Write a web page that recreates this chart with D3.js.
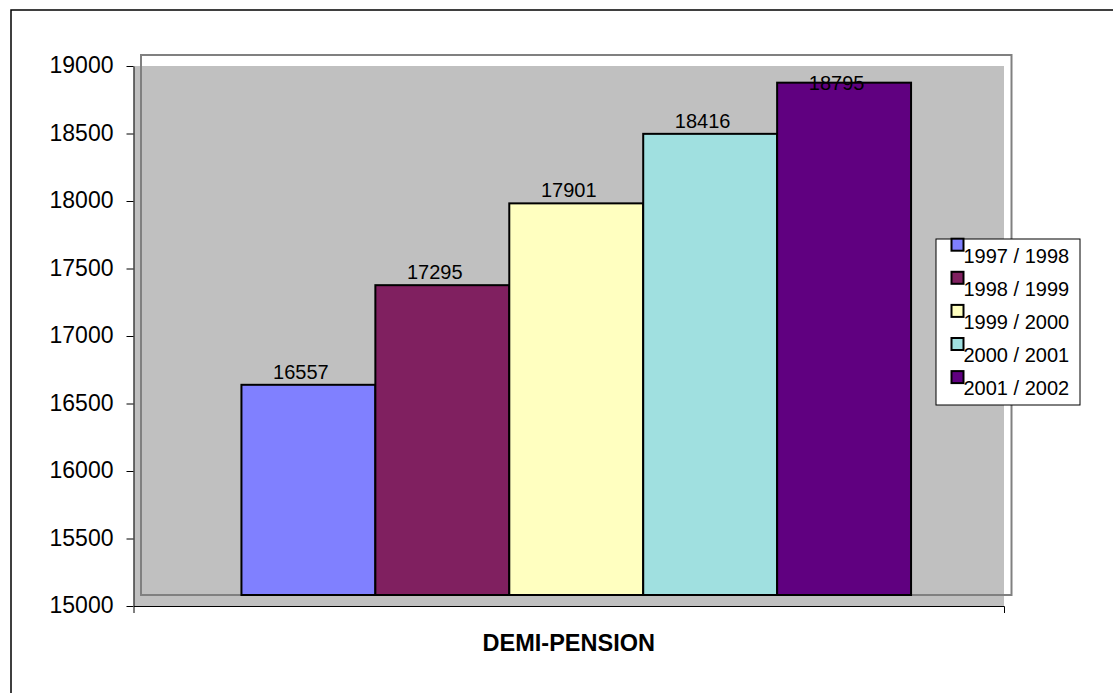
<!DOCTYPE html>
<html>
<head>
<meta charset="utf-8">
<script src="https://cdn.jsdelivr.net/npm/d3@7/dist/d3.min.js"></script>
<style>
  html, body { margin: 0; padding: 0; background: #fff; }
  svg { display: block; }
  text { font-family: "Liberation Sans", Arial, sans-serif; }
</style>
</head>
<body>
<svg id="chart" width="1113" height="693"></svg>
<script>
// ---- data ----
const categories = ["DEMI-PENSION"];
const seriesNames = ["1997 / 1998", "1998 / 1999", "1999 / 2000", "2000 / 2001", "2001 / 2002"];
const seriesValues = [16557, 17295, 17901, 18416, 18795];
const seriesColors = ["#8080FF", "#802060", "#FFFFC0", "#A0E0E0", "#600080"];
const yTicks = [15000, 15500, 16000, 16500, 17000, 17500, 18000, 18500, 19000];
const yDomain = [15000, 19000];

// ---- layout ----
const svg = d3.select("#chart");
const fill = { x0: 133.5, x1: 1004, y0: 66, y1: 606 };   // grey plot fill / axis frame
const dx = 7.5, dy = -11;                                 // offset of the bordered plot frame

// outer chart border
svg.append("rect")
  .attr("x", 11).attr("y", 10)
  .attr("width", 1200).attr("height", 800)
  .attr("fill", "none").attr("stroke", "#000").attr("stroke-width", 1.5);

// scales
const xAxisScale = d3.scaleBand().domain(categories).range([fill.x0, fill.x1]).paddingInner(0).paddingOuter(0.15);
const xBarScale = d3.scaleBand().domain(categories).range([fill.x0 + dx, fill.x1 + dx]).paddingInner(0).paddingOuter(0.15);
const xSeries = d3.scaleBand().domain(seriesNames).range([0, xBarScale.bandwidth()]).padding(0);
const yAxisScale = d3.scaleLinear().domain(yDomain).range([fill.y1, fill.y0]);
const yBarScale = d3.scaleLinear().domain(yDomain).range([fill.y1 + dy, fill.y0 + dy]);

// grey plot fill
svg.append("rect")
  .attr("x", fill.x0).attr("y", fill.y0)
  .attr("width", fill.x1 - fill.x0).attr("height", fill.y1 - fill.y0)
  .attr("fill", "#C0C0C0");

// plot frame border (offset)
svg.append("rect")
  .attr("x", fill.x0 + dx).attr("y", fill.y0 + dy)
  .attr("width", fill.x1 - fill.x0).attr("height", fill.y1 - fill.y0)
  .attr("fill", "none").attr("stroke", "#808080").attr("stroke-width", 2);

// bars
const bars = seriesNames.map((name, i) => ({ name, value: seriesValues[i], color: seriesColors[i], cat: categories[0] }));
svg.append("g").selectAll("rect").data(bars).join("rect")
  .attr("x", d => xBarScale(d.cat) + xSeries(d.name))
  .attr("y", d => yBarScale(d.value))
  .attr("width", xSeries.bandwidth())
  .attr("height", d => yBarScale(yDomain[0]) - yBarScale(d.value))
  .attr("fill", d => d.color)
  .attr("stroke", "#000").attr("stroke-width", 2);

// data labels
const labelMinY = yBarScale(yDomain[1]) + 35;
svg.append("g").selectAll("text").data(bars).join("text")
  .attr("x", d => xBarScale(d.cat) + xSeries(d.name) + xSeries.bandwidth() / 2 - dx)
  .attr("y", d => Math.max(yBarScale(d.value) - 6, labelMinY))
  .attr("text-anchor", "middle")
  .attr("font-size", 20)
  .attr("fill", "#000")
  .text(d => d.value);

// y axis
const yAxis = d3.axisLeft(yAxisScale).tickValues(yTicks).tickFormat(d3.format("d"))
  .tickSize(7).tickSizeOuter(0).tickPadding(13);
const gy = svg.append("g").attr("transform", `translate(${fill.x0},0)`).call(yAxis);
gy.selectAll("path, line").attr("stroke", "#000");
gy.selectAll("text").attr("font-size", 23).attr("fill", "#000")
  .attr("font-family", "'Liberation Sans', Arial, sans-serif")
  .attr("dy", "0.3em");

// x axis
const xAxis = d3.axisBottom(xAxisScale).tickValues([]).tickSizeOuter(7);
const gx = svg.append("g").attr("transform", `translate(0,${fill.y1})`).call(xAxis);
gx.selectAll("path, line").attr("stroke", "#000");

// category label
svg.append("text")
  .attr("x", xAxisScale(categories[0]) + xAxisScale.bandwidth() / 2)
  .attr("y", fill.y1 + 44.5)
  .attr("text-anchor", "middle")
  .attr("font-size", 23.5).attr("font-weight", "bold")
  .text(categories[0]);

// legend
const lg = svg.append("g").attr("transform", "translate(936,239)");
lg.append("rect").attr("x", 0).attr("y", 0).attr("width", 144).attr("height", 166)
  .attr("fill", "#fff").attr("stroke", "#000").attr("stroke-width", 1);
const items = lg.selectAll("g.item").data(bars).join("g").attr("class", "item")
  .attr("transform", (d, i) => `translate(0,${23.7 + i * 33.1})`);
items.append("rect").attr("x", 15.5).attr("y", -24).attr("width", 12).attr("height", 12)
  .attr("fill", d => d.color).attr("stroke", "#000").attr("stroke-width", 2);
items.append("text").attr("x", 27.5).attr("y", 0)
  .attr("font-size", 20).attr("fill", "#000")
  .text(d => d.name);
</script>
</body>
</html>
